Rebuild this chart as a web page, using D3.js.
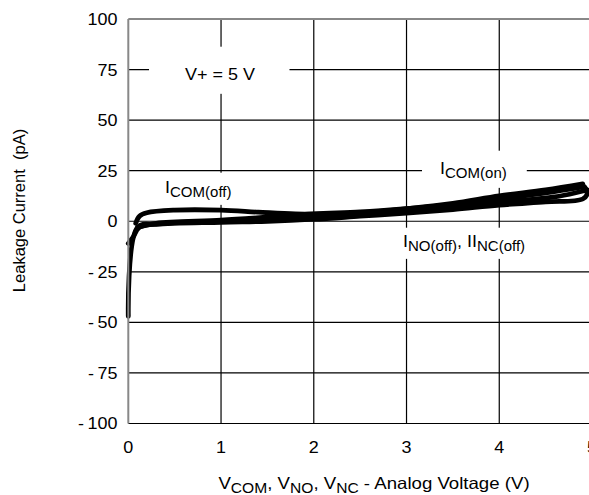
<!DOCTYPE html>
<html><head><meta charset="utf-8">
<script src="https://cdn.jsdelivr.net/npm/d3@7"></script>
<style>
html,body{margin:0;padding:0;background:#fff;}
svg{display:block;font-family:"Liberation Sans",Arial,sans-serif;}
</style></head><body>
<svg id="chart" width="589" height="495"></svg>
<script>
// ---- data ----
const xTickValues = [0, 1, 2, 3, 4, 5];
const xTickLabels = ["0", "1", "2", "3", "4", "5"];
const yTickValues = [-100, -75, -50, -25, 0, 25, 50, 75, 100];
const yTickLabels = ["-\u2009100", "-\u200975", "-\u200950", "-\u200925", "0", "25", "50", "75", "100"];

// Leakage curves: analog voltage (V) and current (pA)
const icomOffV = [0.08, 0.12, 0.2, 0.5, 1.0, 1.4, 1.8, 2.2, 2.6, 3.0, 3.5, 4.0, 4.5, 4.9];
const icomOffI = [-1, 2.5, 4.2, 5.5, 5.5, 4.5, 3.6, 3.6, 4.5, 6.2, 8.8, 12.5, 15.5, 18.5];
const icomOnV = [0.1, 0.3, 1.0, 1.5, 2.0, 2.5, 3.0, 3.5, 4.0, 4.5, 4.9];
const icomOnI = [-3, -1, 0.5, 2, 3.6, 4.6, 6.2, 8.2, 11, 14, 17];
const inoOffV = [0, 0.1, 0.3, 1.0, 1.5, 2.0, 2.5, 3.0, 3.5, 4.0, 4.5, 4.9, 4.95, 4.92];
const inoOffI = [-47, -3, -1.5, -0.5, 0, 1, 2.5, 4, 5.8, 8, 9.6, 11, 14, 17];
const incOffV = [0, 0.05, 0.12, 0.4, 1.0, 2.0, 3.0, 4.0, 4.6, 4.95];
const incOffI = [-11, -8, -3, -1, 0, 2, 5, 9.5, 12, 15.5];
const seriesV = [icomOffV, icomOnV, inoOffV, incOffV];
const seriesI = [icomOffI, icomOnI, inoOffI, incOffI];

const annotationParts = [
  [["V+ = 5 V", 0]],
  [["I", 0], ["COM(off)", 1]],
  [["I", 0], ["COM(on)", 1]],
  [["I", 0], ["NO(off)", 1], [", II", 0], ["NC(off)", 1]]
];
const xTitleParts = [["V", 0], ["COM", 1], [", V", 0], ["NO", 1], [", V", 0], ["NC", 1], [" - Analog Voltage (V)", 0]];
const yTitle = "Leakage Current  (pA)";

// ---- layout ----
const svg = d3.select("#chart");
const x = d3.scaleLinear().domain([0, 5]).range([128.3, 592]);
const y = d3.scaleLinear().domain([-100, 100]).range([423.5, 19]);
const MAIN = 16.5, SUB = 13.8, SHIFT = 4, HS = 1.09;

function addParts(textSel, parts) {
  parts.forEach(([t, sub], i) => {
    const prevSub = i > 0 && parts[i - 1][1];
    const ts = textSel.append("tspan").text(t).attr("font-size", sub ? SUB : MAIN);
    if (sub && !prevSub) ts.attr("dy", SHIFT);
    if (!sub && prevSub) ts.attr("dy", -SHIFT);
  });
}
function place(sel, px, py, hs) {
  return sel.attr("transform", `translate(${px},${py}) scale(${hs || HS},1)`);
}

// grid
const grid = svg.append("g").attr("stroke", "#000").attr("stroke-width", 1.2);
grid.selectAll("line.v").data(xTickValues.filter(d => d > 0 && d < 5)).join("line")
  .attr("x1", d => x(d)).attr("x2", d => x(d)).attr("y1", y(100)).attr("y2", y(-100));
grid.selectAll("line.h").data(yTickValues.filter(d => d < 100)).join("line")
  .attr("x1", x(0)).attr("x2", 589).attr("y1", d => y(d)).attr("y2", d => y(d));

// annotations with white backgrounds
const annotLayout = [
  { x: 220, y: 80, anchor: "middle", pad: [36, 34, 18, 10] },
  { x: 165, y: 193, anchor: "start", pad: [10, 10, 5, 5] },
  { x: 440, y: 174, anchor: "start", pad: [18, 20, 8, 7] },
  { x: 403, y: 247, anchor: "start", pad: [3, 2, 4, 5] }
];
const ann = svg.append("g");
annotationParts.forEach((parts, i) => {
  const L = annotLayout[i];
  const g = place(ann.append("g"), L.x, L.y);
  const rect = g.append("rect").attr("fill", "#fff");
  const t = g.append("text").attr("text-anchor", L.anchor)
    .attr("font-size", MAIN).attr("fill", "#000").style("white-space", "pre");
  addParts(t, parts);
  const b = t.node().getBBox();
  rect.attr("x", b.x - L.pad[0] / HS).attr("y", b.y - L.pad[2])
    .attr("width", b.width + (L.pad[0] + L.pad[1]) / HS).attr("height", b.height + L.pad[2] + L.pad[3]);
});

// curves
const line = d3.line().x(d => x(d[0])).y(d => y(d[1])).curve(d3.curveCatmullRom.alpha(0.5));
svg.append("g").selectAll("path").data(seriesV.map((v, k) => v.map((vv, j) => [vv, seriesI[k][j]])))
  .join("path").attr("d", line).attr("fill", "none").attr("stroke", "#000")
  .attr("stroke-width", 4.8).attr("stroke-linejoin", "round").attr("stroke-linecap", "round");

// frame: gray left and top
svg.append("line").attr("x1", x(0)).attr("x2", x(0)).attr("y1", y(100)).attr("y2", y(-100))
  .attr("stroke", "#888").attr("stroke-width", 2);
svg.append("line").attr("x1", x(0)).attr("x2", 589).attr("y1", y(100)).attr("y2", y(100))
  .attr("stroke", "#888").attr("stroke-width", 2);

// tick labels
svg.append("g").selectAll("text").data(xTickValues).join("text")
  .attr("transform", d => `translate(${x(d)},453) scale(${HS},1)`)
  .attr("text-anchor", "middle").attr("font-size", MAIN)
  .text((d, i) => xTickLabels[i]);
svg.append("g").selectAll("text").data(yTickValues).join("text")
  .attr("transform", d => `translate(117.5,${y(d)}) scale(${HS},1)`)
  .attr("dy", "0.36em").attr("text-anchor", "end").attr("font-size", MAIN)
  .text((d, i) => yTickLabels[i]);

// axis titles
const xt = place(svg.append("text"), 374, 489, 1.13).attr("text-anchor", "middle")
  .attr("font-size", MAIN).style("white-space", "pre");
addParts(xt, xTitleParts);
svg.append("text").attr("transform", "translate(25,210.5) rotate(-90)").attr("text-anchor", "middle")
  .attr("font-size", MAIN).style("white-space", "pre").text(yTitle);
</script>
</body></html>
